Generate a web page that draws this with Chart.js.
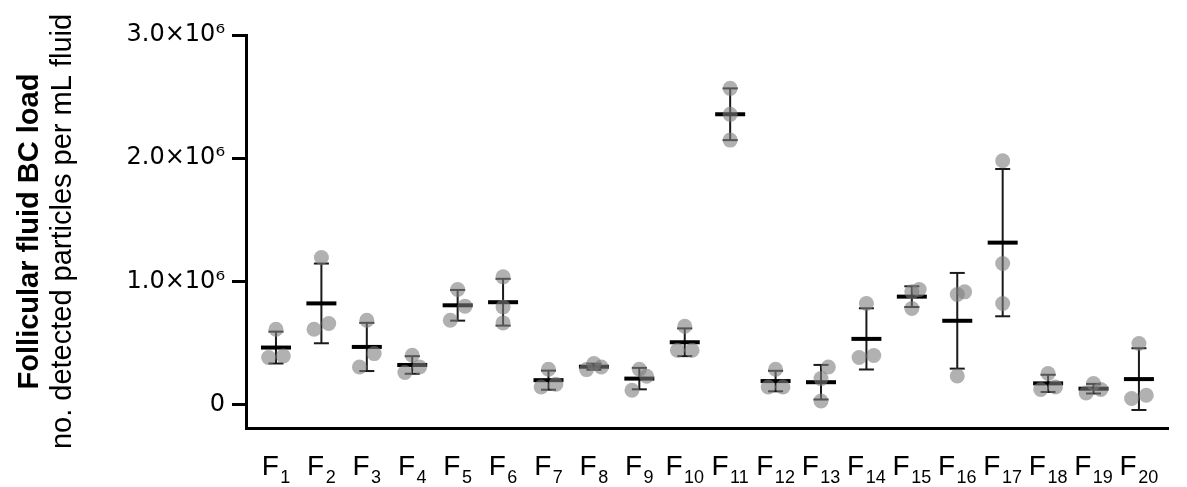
<!DOCTYPE html>
<html>
<head>
<meta charset="utf-8">
<script src="https://cdn.jsdelivr.net/npm/chart.js@4"></script>
<style>
  body { margin: 0; background: #fff; }
</style>
</head>
<body>
<canvas id="bcChart" width="1187" height="487"></canvas>
<script>
// follicular fluid samples, three replicate measurements each (particles per mL)
const categories = ['F1', 'F2', 'F3', 'F4', 'F5', 'F6', 'F7', 'F8', 'F9', 'F10',
                    'F11', 'F12', 'F13', 'F14', 'F15', 'F16', 'F17', 'F18', 'F19', 'F20'];
const replicate1 = [612000, 1194000, 685000, 400000, 934000, 1037000, 287000, 333000, 287000, 636000,
                    2567000, 287000, 305000, 820000, 934000, 915000, 1979000, 252000, 171000, 496000];
const replicate2 = [382000, 612000, 305000, 260000, 685000, 793000, 143000, 284000, 116000, 441000,
                    2147000, 143000, 29000, 382000, 780000, 232000, 820000, 122000, 94000, 49000];
const replicate3 = [395000, 658000, 414000, 305000, 799000, 663000, 165000, 305000, 230000, 441000,
                    2356000, 143000, 211000, 398000, 915000, 894000, 1145000, 143000, 122000, 76000];
const yTickValues = [0, 1000000, 2000000, 3000000];
const yTickLabels = ['0', '1.0×10⁶', '2.0×10⁶', '3.0×10⁶'];

const Y_MIN = -190000, Y_MAX = 3000000;
const X_MIN = -0.66, X_MAX = 19.64;
const PLOT_W = 941, PLOT_H = 393;
const FONT = '"Liberation Sans", Arial, sans-serif';

const valuePerPx = (Y_MAX - Y_MIN) / PLOT_H;
const slotWidth = 7.5 * (X_MAX - X_MIN) / PLOT_W;
const overlap = 15 * valuePerPx;

// spread overlapping dots sideways, top to bottom
function swarm(values) {
  const order = values.map((v, k) => k).sort((a, b) => values[b] - values[a]);
  const clusters = [];
  order.forEach(k => {
    const last = clusters[clusters.length - 1];
    if (last && values[last[last.length - 1]] - values[k] < overlap) last.push(k);
    else clusters.push([k]);
  });
  const slots = new Array(values.length).fill(0);
  clusters.forEach((c, ci) => {
    const lowest = ci === clusters.length - 1;
    let pattern;
    if (c.length === 1) pattern = [0];
    else if (c.length === 2) pattern = lowest ? [1, -1] : [1, 0];
    else pattern = [0, 1, -1, 2, -2];
    c.forEach((k, j) => { slots[k] = pattern[j]; });
  });
  return slots;
}

const groups = categories.map((_, i) => [replicate1[i], replicate2[i], replicate3[i]]);
const means = groups.map(g => g.reduce((a, b) => a + b, 0) / g.length);
const sds = groups.map((g, i) =>
  Math.sqrt(g.reduce((a, b) => a + (b - means[i]) ** 2, 0) / (g.length - 1)));

const pointData = [];
groups.forEach((g, i) => {
  const s = swarm(g);
  g.forEach((v, k) => pointData.push({ x: i + s[k] * slotWidth, y: v }));
});
const meanData = means.map((m, i) => ({ x: i, y: m }));
const errorData = [];
means.forEach((m, i) => {
  errorData.push({ x: i, y: m - sds[i] }, { x: i, y: m + sds[i] }, { x: i, y: null });
});

// x labels with subscript numbers
const subscriptLabels = {
  id: 'subscriptLabels',
  afterDraw(chart) {
    const { ctx, chartArea } = chart;
    const x = chart.scales.x;
    ctx.save();
    ctx.fillStyle = '#000';
    ctx.textBaseline = 'alphabetic';
    ctx.textAlign = 'left';
    categories.forEach((cat, i) => {
      const main = cat.charAt(0);
      const sub = cat.slice(1);
      ctx.font = '28px ' + FONT;
      const wMain = ctx.measureText(main).width;
      ctx.font = '18px ' + FONT;
      const wSub = ctx.measureText(sub).width;
      const left = x.getPixelForValue(i) - (wMain + 1.5 + wSub) / 2;
      ctx.font = '28px ' + FONT;
      ctx.fillText(main, left, chartArea.bottom + 47);
      ctx.font = '18px ' + FONT;
      ctx.fillText(sub, left + wMain + 1.5, chartArea.bottom + 55);
    });
    ctx.restore();
  }
};

Chart.defaults.font.family = FONT;
Chart.defaults.color = '#000';

new Chart(document.getElementById('bcChart'), {
  type: 'scatter',
  data: {
    datasets: [
      {
        data: pointData,
        order: 0,
        pointRadius: 7.5,
        pointBorderWidth: 0,
        backgroundColor: 'rgba(125,125,125,0.6)',
        borderColor: 'rgba(0,0,0,0)'
      },
      {
        data: meanData,
        order: 1,
        pointStyle: 'line',
        pointRadius: 15,
        pointBorderWidth: 4,
        borderColor: '#000'
      },
      {
        type: 'line',
        data: errorData,
        order: 2,
        spanGaps: false,
        borderColor: '#1a1a1a',
        borderWidth: 2,
        pointStyle: 'line',
        pointRadius: 7.5,
        pointBorderWidth: 2,
        pointBorderColor: '#1a1a1a'
      }
    ]
  },
  options: {
    responsive: false,
    devicePixelRatio: 1,
    animation: false,
    events: [],
    layout: { padding: { top: 35, right: 0, bottom: 0, left: 0 } },
    plugins: { legend: { display: false }, tooltip: { enabled: false } },
    scales: {
      x: {
        type: 'linear',
        min: X_MIN,
        max: X_MAX,
        grid: { display: false },
        ticks: { display: false },
        border: { display: true, width: 3, color: '#000' },
        afterFit: s => { s.height = 59; }
      },
      y: {
        type: 'linear',
        position: 'left',
        min: Y_MIN,
        max: Y_MAX,
        afterBuildTicks: s => { s.ticks = yTickValues.map(v => ({ value: v })); },
        afterFit: s => { s.width = 202; },
        ticks: {
          padding: 7,
          font: { family: '"DejaVu Sans", sans-serif', size: 24 },
          callback: v => yTickLabels[yTickValues.indexOf(v)]
        },
        grid: { drawOnChartArea: false, drawTicks: true, tickLength: 14, lineWidth: 3, color: '#000' },
        border: { display: true, width: 3, color: '#000' },
        title: {
          display: true,
          text: 'no. detected particles per mL fluid',
          font: { size: 29 },
          padding: { top: 1.6, bottom: 0 }
        }
      },
      yTitle: {
        type: 'linear',
        position: 'left',
        weight: 1,
        display: true,
        afterFit: s => { s.width = 44; },
        grid: { display: false },
        ticks: { display: false },
        border: { display: false },
        title: {
          display: true,
          text: 'Follicular fluid BC load',
          font: { size: 29, weight: 'bold' },
          padding: { top: 12.6, bottom: 0 }
        }
      }
    }
  },
  plugins: [subscriptLabels]
});
</script>
</body>
</html>
